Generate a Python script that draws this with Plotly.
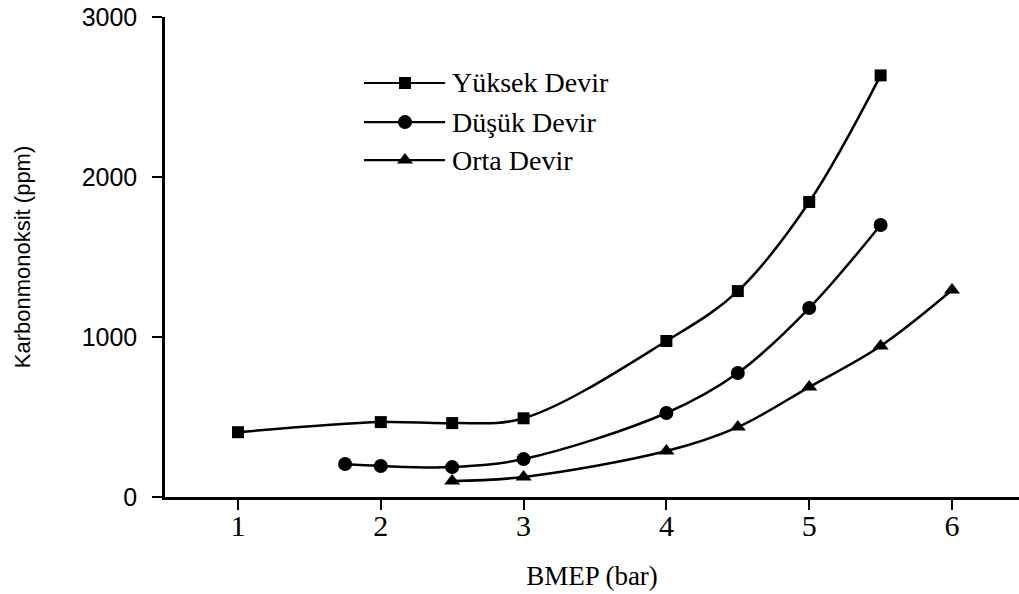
import plotly.graph_objects as go

# Data
x_yuksek = [1, 2, 2.5, 3, 4, 4.5, 5, 5.5]
y_yuksek = [405, 468, 462, 492, 975, 1287, 1844, 2635]

x_dusuk = [1.75, 2, 2.5, 3, 4, 4.5, 5, 5.5]
y_dusuk = [206, 194, 187, 237, 525, 775, 1181, 1700]

x_orta = [2.5, 3, 4, 4.5, 5, 5.5, 6]
y_orta = [100, 125, 287, 437, 687, 944, 1294]

series_names = ["Yüksek Devir", "Düşük Devir", "Orta Devir"]
x_ticks = [1, 2, 3, 4, 5, 6]
y_ticks = [0, 1000, 2000, 3000]

SERIF = "Liberation Serif"
SANS = "Liberation Sans"

series = [
    (series_names[0], x_yuksek, y_yuksek, "square", 12),
    (series_names[1], x_dusuk, y_dusuk, "circle", 14),
    (series_names[2], x_orta, y_orta, "triangle-up", 14),
]

fig = go.Figure()
for name, xs, ys, sym, size in series:
    fig.add_trace(go.Scatter(
        x=xs, y=ys, name=name, mode="lines+markers", showlegend=False,
        line=dict(color="black", width=2.5, shape="spline", smoothing=1.0),
        marker=dict(symbol=sym, size=size, color="black"),
    ))

# Manual legend (long line with centred marker, like the reference)
leg_x0, leg_x1, leg_xm, leg_tx = 0.233, 0.328, 0.281, 0.334
leg_rows = [0.8625, 0.781, 0.702]
for (name, xs, ys, sym, size), ry in zip(series, leg_rows):
    fig.add_shape(type="line", xref="paper", yref="paper",
                  x0=leg_x0, x1=leg_x1, y0=ry, y1=ry,
                  line=dict(color="black", width=2.2))
    fig.add_trace(go.Scatter(
        x=[leg_xm], y=[ry], xaxis="x2", yaxis="y2", mode="markers",
        showlegend=False, hoverinfo="skip",
        marker=dict(symbol=sym, size=size, color="black"),
    ))
    fig.add_annotation(xref="paper", yref="paper", x=leg_tx, y=ry,
                       xanchor="left", yanchor="middle", showarrow=False,
                       text=name, font=dict(family=SERIF, size=28, color="black"))

fig.update_layout(
    width=1019, height=594,
    margin=dict(l=165, r=0, t=17, b=97),
    paper_bgcolor="white", plot_bgcolor="white",
    font=dict(family=SERIF, color="black", size=22),
    showlegend=False,
    xaxis=dict(
        range=[0.489, 6.469], tickvals=x_ticks, ticktext=[str(v) for v in x_ticks],
        showgrid=False, zeroline=False, showline=True, linecolor="black", linewidth=2.5,
        ticks="outside", ticklen=10, tickwidth=2, tickcolor="black",
        tickfont=dict(family=SERIF, size=30), ticklabelstandoff=-10,
        title=dict(text="BMEP (bar)", font=dict(family=SERIF, size=27), standoff=26),
    ),
    yaxis=dict(
        range=[0, 3000], tickvals=y_ticks, ticktext=[str(v) for v in y_ticks],
        showgrid=False, zeroline=False, showline=True, linecolor="black", linewidth=2.5,
        ticks="outside", ticklen=10, tickwidth=2, tickcolor="black",
        tickfont=dict(family=SANS, size=25), ticklabelstandoff=10,
        title=dict(text="Karbonmonoksit (ppm)", font=dict(family=SANS, size=22), standoff=45),
    ),
    xaxis2=dict(overlaying="x", range=[0, 1], visible=False, fixedrange=True),
    yaxis2=dict(overlaying="y", range=[0, 1], visible=False, fixedrange=True),
)

fig.write_html("out.html", config={"displayModeBar": False},
               post_script="document.body.style.margin='0';")
